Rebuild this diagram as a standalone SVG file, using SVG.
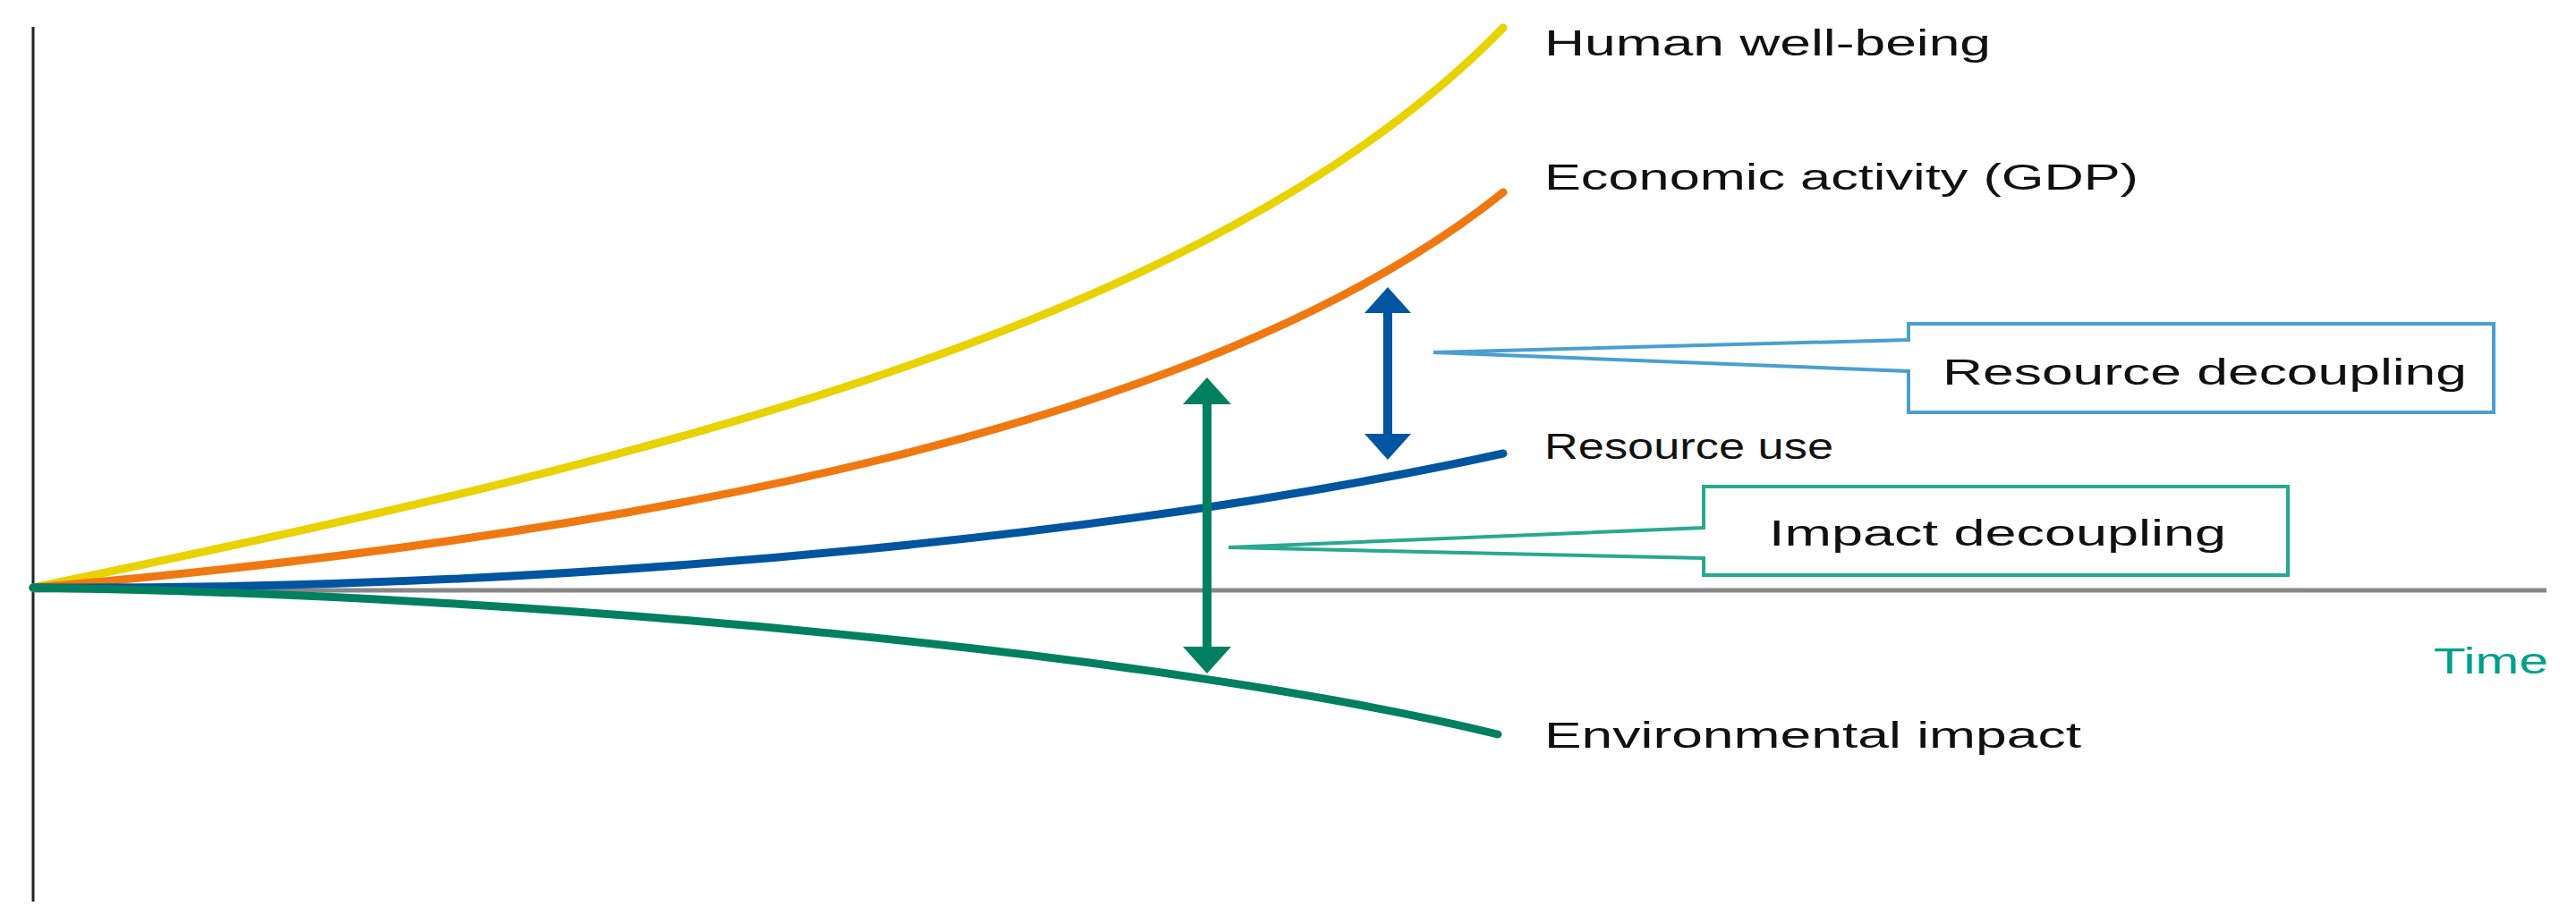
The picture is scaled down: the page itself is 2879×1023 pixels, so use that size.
<svg xmlns="http://www.w3.org/2000/svg" width="2879" height="1023" viewBox="0 0 2879 1023">
<style>
.t{font-family:"Liberation Sans",Arial,sans-serif;font-size:40px;fill:#111}
.c{fill:none;stroke-width:9;stroke-linecap:round}
</style>
<rect width="2879" height="1023" fill="#fff"/>
<g id="axes">
<line x1="37" y1="30" x2="37" y2="1008" stroke="#222" stroke-width="3"/>
<line x1="37" y1="660" x2="2846" y2="660" stroke="#888" stroke-width="5"/>
<text class="t" x="2720" y="753" style="fill:#00a08a" textLength="128" lengthAdjust="spacingAndGlyphs">Time</text>
</g>
<g id="connectors">
<path id="hw" class="c" stroke="#e8d200" d="M37,657 C700,520 1350,370 1680,31"/>
<path id="gdp" class="c" stroke="#f07810" d="M37,657 C700,600 1350,480 1680,215"/>
<path id="ru" class="c" stroke="#0055a0" d="M37,657 C700,660 1300,590 1680,507"/>
<path id="ei" class="c" stroke="#008060" d="M37,657 C600,665 1300,730 1674,821"/>
<g id="arrowBlue" fill="#0055a0">
<rect x="1546" y="345" width="10" height="140"/>
<polygon points="1551,321 1577,350 1525,350"/>
<polygon points="1551,514 1577,485 1525,485"/>
</g>
<g id="arrowGreen" fill="#008060">
<rect x="1344" y="446" width="10" height="282"/>
<polygon points="1349,422 1376,452 1322,452"/>
<polygon points="1349,753 1376,723 1322,723"/>
</g>
</g>
<g id="labels">
<text class="t" x="1726" y="62" textLength="499" lengthAdjust="spacingAndGlyphs">Human well-being</text>
<text class="t" x="1726" y="212" textLength="664" lengthAdjust="spacingAndGlyphs">Economic activity (GDP)</text>
<text class="t" x="1726" y="513" textLength="323" lengthAdjust="spacingAndGlyphs">Resource use</text>
<text class="t" x="1726" y="836" textLength="600" lengthAdjust="spacingAndGlyphs">Environmental impact</text>
</g>
<g id="resourceDecoupling">
<path d="M2133,380 L2133,362 L2787,362 L2787,461 L2133,461 L2133,415 L1602,394 Z" fill="#fff" stroke="#4a9fd0" stroke-width="4" stroke-linejoin="miter"/>
<text class="t" x="2171" y="430" textLength="586" lengthAdjust="spacingAndGlyphs">Resource decoupling</text>
</g>
<g id="impactDecoupling">
<path d="M1904,590 L1904,544 L2557,544 L2557,643 L1904,643 L1904,624 L1373,612 Z" fill="#fff" stroke="#2aa890" stroke-width="4"/>
<text class="t" x="1977" y="610" textLength="511" lengthAdjust="spacingAndGlyphs">Impact decoupling</text>
</g>
</svg>
